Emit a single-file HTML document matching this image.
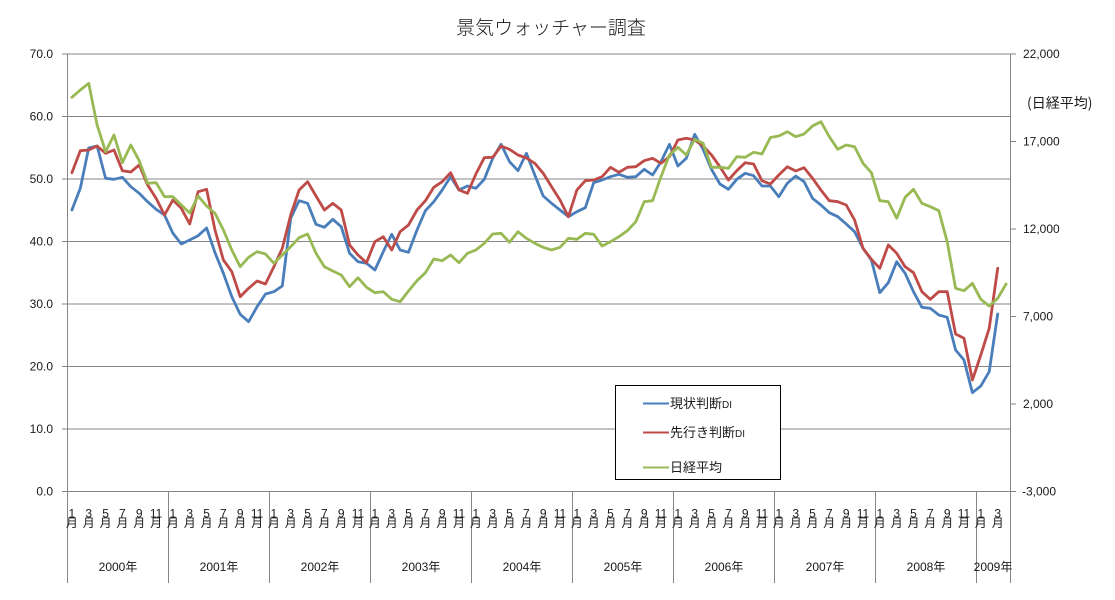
<!DOCTYPE html>
<html><head><meta charset="utf-8"><style>
html,body{margin:0;padding:0;background:#fff;}
svg{display:block;}
text{font-family:"Liberation Sans","Noto Sans CJK JP",sans-serif;fill:#1a1a1a;}
.cjk{font-family:"Noto Sans CJK JP","Liberation Sans",sans-serif;}
</style></head><body>
<svg width="1115" height="600" viewBox="0 0 1115 600" xmlns="http://www.w3.org/2000/svg">
<rect width="1115" height="600" fill="#fff"/>
<text class="cjk" x="551" y="34" font-size="19" font-weight="300" text-anchor="middle">景気ウォッチャー調査</text>
<g stroke="#868686" stroke-width="1" fill="none" shape-rendering="crispEdges">
<line x1="62" y1="54" x2="1016" y2="54"/>
<line x1="62" y1="116.5" x2="1010" y2="116.5"/>
<line x1="62" y1="179" x2="1010" y2="179"/>
<line x1="62" y1="241.5" x2="1010" y2="241.5"/>
<line x1="62" y1="304" x2="1010" y2="304"/>
<line x1="62" y1="366.5" x2="1010" y2="366.5"/>
<line x1="62" y1="429" x2="1010" y2="429"/>
<line x1="62" y1="491.5" x2="1016" y2="491.5"/>
<line x1="67.5" y1="54" x2="67.5" y2="583"/>
<line x1="1010.5" y1="54" x2="1010.5" y2="583"/>
<line x1="1010" y1="141.5" x2="1016" y2="141.5"/>
<line x1="1010" y1="229" x2="1016" y2="229"/>
<line x1="1010" y1="316.5" x2="1016" y2="316.5"/>
<line x1="1010" y1="404" x2="1016" y2="404"/>
<line x1="168.5" y1="491" x2="168.5" y2="583"/>
<line x1="269.5" y1="491" x2="269.5" y2="583"/>
<line x1="370.5" y1="491" x2="370.5" y2="583"/>
<line x1="471.5" y1="491" x2="471.5" y2="583"/>
<line x1="572.5" y1="491" x2="572.5" y2="583"/>
<line x1="673.5" y1="491" x2="673.5" y2="583"/>
<line x1="774.5" y1="491" x2="774.5" y2="583"/>
<line x1="875.5" y1="491" x2="875.5" y2="583"/>
<line x1="976.5" y1="491" x2="976.5" y2="583"/>
</g>
<g font-size="12" text-anchor="end">
<text x="53" y="58">70.0</text>
<text x="53" y="120.5">60.0</text>
<text x="53" y="183">50.0</text>
<text x="53" y="245.5">40.0</text>
<text x="53" y="308">30.0</text>
<text x="53" y="370.5">20.0</text>
<text x="53" y="433">10.0</text>
<text x="53" y="495.5">0.0</text>
</g>
<g font-size="12">
<text x="1023" y="58">22,000</text>
<text x="1023" y="145.5">17,000</text>
<text x="1023" y="233">12,000</text>
<text x="1023" y="320.5">7,000</text>
<text x="1023" y="408">2,000</text>
<text x="1022" y="495.5">-3,000</text>
</g>
<text class="cjk" x="1027" y="108" font-size="14">(日経平均)</text>

<polyline fill="none" stroke="#4A7EBB" stroke-width="2.8" stroke-linejoin="round" stroke-linecap="round" points="71.9,210 80.3,188.3 88.7,148 97.1,146 105.6,178.3 114.0,179.3 122.4,177.3 130.8,186.7 139.2,193.3 147.6,201.7 156.1,209.3 164.5,215 172.9,233.3 181.3,244 189.7,240 198.1,235.7 206.6,228 215.0,252.7 223.4,273.3 231.8,296.7 240.2,314.3 248.6,321.7 257.1,306.7 265.5,294 273.9,291.7 282.3,286 290.7,218.3 299.1,200.7 307.6,203.3 316.0,224.3 324.4,227.3 332.8,219.3 341.2,226.7 349.6,253.3 358.0,261.7 366.5,263.3 374.9,270 383.3,251.7 391.7,234.3 400.1,250 408.5,252.3 417.0,230 425.4,210.7 433.8,201.7 442.2,190 450.6,176.7 459.0,190 467.5,186 475.9,188.3 484.3,179.3 492.7,158.3 501.1,144.3 509.5,161.7 518.0,170.7 526.4,153.3 534.8,175 543.2,196 551.6,203.3 560.0,210 568.4,216.7 576.9,211.7 585.3,207.7 593.7,182.7 602.1,180 610.5,176.7 618.9,174.3 627.4,177.3 635.8,176.7 644.2,169.3 652.6,175 661.0,161.7 669.4,144.3 677.9,166 686.3,158.3 694.7,134.3 703.1,149.3 711.5,169.3 719.9,184 728.4,189.3 736.8,179.3 745.2,173.3 753.6,175.7 762.0,186 770.4,186 778.8,196.7 787.3,183.3 795.7,176 804.1,181.7 812.5,198.3 820.9,205 829.3,212.7 837.8,216.7 846.2,224 854.6,231.7 863.0,248.3 871.4,260 879.8,292.7 888.3,282.7 896.7,261.7 905.1,273.3 913.5,291.7 921.9,307.3 930.3,308.3 938.8,315 947.2,317.3 955.6,350 964.0,360 972.4,392.7 980.8,386 989.2,371.7 997.7,314"/>
<polyline fill="none" stroke="#BE4B48" stroke-width="2.8" stroke-linejoin="round" stroke-linecap="round" points="71.9,172.7 80.3,150.7 88.7,150 97.1,146 105.6,153.3 114.0,150 122.4,170.7 130.8,172 139.2,165 147.6,185 156.1,198.3 164.5,215 172.9,200 181.3,208.3 189.7,224 198.1,191.7 206.6,189.3 215.0,230 223.4,260 231.8,271.7 240.2,296.7 248.6,288.3 257.1,281 265.5,284 273.9,266.7 282.3,248.3 290.7,215 299.1,190 307.6,181.7 316.0,196 324.4,210 332.8,203.3 341.2,210 349.6,245 358.0,255 366.5,262.7 374.9,241.7 383.3,236.7 391.7,250 400.1,231.7 408.5,225 417.0,210 425.4,200.7 433.8,187.3 442.2,181.7 450.6,172.7 459.0,190 467.5,193.3 475.9,174 484.3,157.7 492.7,157.3 501.1,146 509.5,149.3 518.0,155 526.4,158 534.8,163.3 543.2,173.3 551.6,186.7 560.0,200 568.4,216.7 576.9,190 585.3,180.7 593.7,180 602.1,176.7 610.5,167.3 618.9,172.3 627.4,167.3 635.8,166.7 644.2,160.7 652.6,158.3 661.0,163.3 669.4,156.7 677.9,140 686.3,138.3 694.7,140 703.1,146 711.5,155 719.9,166.7 728.4,180 736.8,170.7 745.2,162.7 753.6,164 762.0,180.7 770.4,184 778.8,175 787.3,166.7 795.7,171 804.1,167.7 812.5,178.3 820.9,190 829.3,200.7 837.8,201.7 846.2,205 854.6,220 863.0,248.3 871.4,259.3 879.8,268.3 888.3,245 896.7,253.3 905.1,266.7 913.5,272.7 921.9,291.7 930.3,299.3 938.8,291.7 947.2,291.7 955.6,334 964.0,338.3 972.4,380 980.8,355 989.2,328.3 997.7,268.3"/>
<polyline fill="none" stroke="#98B954" stroke-width="2.8" stroke-linejoin="round" stroke-linecap="round" points="71.9,97.3 80.3,90 88.7,83.3 97.1,125 105.6,151.7 114.0,135 122.4,162.7 130.8,145 139.2,160.7 147.6,183.3 156.1,182.7 164.5,196.7 172.9,196.7 181.3,205 189.7,213 198.1,196 206.6,206 215.0,213.3 223.4,230 231.8,250 240.2,266.7 248.6,257.3 257.1,251.7 265.5,254 273.9,263.3 282.3,255 290.7,246.7 299.1,237.7 307.6,234 316.0,253.3 324.4,266.7 332.8,271 341.2,275 349.6,286.7 358.0,277.7 366.5,287.3 374.9,292.7 383.3,291.7 391.7,299.3 400.1,301.7 408.5,291 417.0,280.7 425.4,272.7 433.8,259 442.2,260.7 450.6,255 459.0,262.7 467.5,253.3 475.9,250 484.3,243.3 492.7,234 501.1,233.3 509.5,242.3 518.0,231.7 526.4,238.3 534.8,243.3 543.2,247.3 551.6,250 560.0,247.3 568.4,238.3 576.9,239.3 585.3,233.3 593.7,234.3 602.1,246 610.5,241.7 618.9,236.7 627.4,230.7 635.8,221.7 644.2,201.7 652.6,200.7 661.0,176.7 669.4,155 677.9,147.3 686.3,155 694.7,139.3 703.1,143.3 711.5,167.3 719.9,167.3 728.4,168.3 736.8,156.7 745.2,157.3 753.6,152.3 762.0,154 770.4,137.5 778.8,136 787.3,131.7 795.7,136.7 804.1,134 812.5,126 820.9,121.7 829.3,136.7 837.8,149.3 846.2,145 854.6,146.7 863.0,163.3 871.4,172.7 879.8,200.7 888.3,201.7 896.7,218.3 905.1,197.3 913.5,189.3 921.9,203.3 930.3,206.7 938.8,210.7 947.2,241.7 955.6,288.3 964.0,290.7 972.4,283.3 980.8,299.3 989.2,306 997.7,298.3 1006.1,284"/>

<rect x="615.5" y="385.5" width="165" height="94" fill="#fff" stroke="#000" stroke-width="1" shape-rendering="crispEdges"/>
<line x1="643" y1="403.5" x2="669" y2="403.5" stroke="#4A7EBB" stroke-width="2"/>
<line x1="643" y1="432.5" x2="669" y2="432.5" stroke="#BE4B48" stroke-width="2"/>
<line x1="643" y1="467.5" x2="669" y2="467.5" stroke="#98B954" stroke-width="2"/>
<text class="cjk" x="670" y="408" font-size="13">現状判断<tspan font-size="10" font-family="Liberation Sans">DI</tspan></text>
<text class="cjk" x="670" y="437" font-size="13">先行き判断<tspan font-size="10" font-family="Liberation Sans">DI</tspan></text>
<text class="cjk" x="670" y="472" font-size="13">日経平均</text>

<g font-size="12" text-anchor="middle">
<text x="71.9" y="517.5">1</text><text x="88.7" y="517.5">3</text><text x="105.6" y="517.5">5</text><text x="122.4" y="517.5">7</text><text x="139.2" y="517.5">9</text><text x="156.1" y="517.5">11</text>
<text x="172.9" y="517.5">1</text><text x="189.7" y="517.5">3</text><text x="206.6" y="517.5">5</text><text x="223.4" y="517.5">7</text><text x="240.2" y="517.5">9</text><text x="257.1" y="517.5">11</text>
<text x="273.9" y="517.5">1</text><text x="290.7" y="517.5">3</text><text x="307.6" y="517.5">5</text><text x="324.4" y="517.5">7</text><text x="341.2" y="517.5">9</text><text x="358.0" y="517.5">11</text>
<text x="374.9" y="517.5">1</text><text x="391.7" y="517.5">3</text><text x="408.5" y="517.5">5</text><text x="425.4" y="517.5">7</text><text x="442.2" y="517.5">9</text><text x="459.0" y="517.5">11</text>
<text x="475.9" y="517.5">1</text><text x="492.7" y="517.5">3</text><text x="509.5" y="517.5">5</text><text x="526.4" y="517.5">7</text><text x="543.2" y="517.5">9</text><text x="560.0" y="517.5">11</text>
<text x="576.9" y="517.5">1</text><text x="593.7" y="517.5">3</text><text x="610.5" y="517.5">5</text><text x="627.4" y="517.5">7</text><text x="644.2" y="517.5">9</text><text x="661.0" y="517.5">11</text>
<text x="677.9" y="517.5">1</text><text x="694.7" y="517.5">3</text><text x="711.5" y="517.5">5</text><text x="728.4" y="517.5">7</text><text x="745.2" y="517.5">9</text><text x="762.0" y="517.5">11</text>
<text x="778.8" y="517.5">1</text><text x="795.7" y="517.5">3</text><text x="812.5" y="517.5">5</text><text x="829.3" y="517.5">7</text><text x="846.2" y="517.5">9</text><text x="863.0" y="517.5">11</text>
<text x="879.8" y="517.5">1</text><text x="896.7" y="517.5">3</text><text x="913.5" y="517.5">5</text><text x="930.3" y="517.5">7</text><text x="947.2" y="517.5">9</text><text x="964.0" y="517.5">11</text>
<text x="980.8" y="517.5">1</text><text x="997.7" y="517.5">3</text>
</g>
<g class="cjk" font-size="12" text-anchor="middle">
<text x="71.9" y="527">月</text><text x="88.7" y="527">月</text><text x="105.6" y="527">月</text><text x="122.4" y="527">月</text><text x="139.2" y="527">月</text><text x="156.1" y="527">月</text>
<text x="172.9" y="527">月</text><text x="189.7" y="527">月</text><text x="206.6" y="527">月</text><text x="223.4" y="527">月</text><text x="240.2" y="527">月</text><text x="257.1" y="527">月</text>
<text x="273.9" y="527">月</text><text x="290.7" y="527">月</text><text x="307.6" y="527">月</text><text x="324.4" y="527">月</text><text x="341.2" y="527">月</text><text x="358.0" y="527">月</text>
<text x="374.9" y="527">月</text><text x="391.7" y="527">月</text><text x="408.5" y="527">月</text><text x="425.4" y="527">月</text><text x="442.2" y="527">月</text><text x="459.0" y="527">月</text>
<text x="475.9" y="527">月</text><text x="492.7" y="527">月</text><text x="509.5" y="527">月</text><text x="526.4" y="527">月</text><text x="543.2" y="527">月</text><text x="560.0" y="527">月</text>
<text x="576.9" y="527">月</text><text x="593.7" y="527">月</text><text x="610.5" y="527">月</text><text x="627.4" y="527">月</text><text x="644.2" y="527">月</text><text x="661.0" y="527">月</text>
<text x="677.9" y="527">月</text><text x="694.7" y="527">月</text><text x="711.5" y="527">月</text><text x="728.4" y="527">月</text><text x="745.2" y="527">月</text><text x="762.0" y="527">月</text>
<text x="778.8" y="527">月</text><text x="795.7" y="527">月</text><text x="812.5" y="527">月</text><text x="829.3" y="527">月</text><text x="846.2" y="527">月</text><text x="863.0" y="527">月</text>
<text x="879.8" y="527">月</text><text x="896.7" y="527">月</text><text x="913.5" y="527">月</text><text x="930.3" y="527">月</text><text x="947.2" y="527">月</text><text x="964.0" y="527">月</text>
<text x="980.8" y="527">月</text><text x="997.7" y="527">月</text>
</g>
<g font-size="12" text-anchor="middle">
<text x="118" y="571">2000年</text>
<text x="219" y="571">2001年</text>
<text x="320" y="571">2002年</text>
<text x="421" y="571">2003年</text>
<text x="522" y="571">2004年</text>
<text x="623" y="571">2005年</text>
<text x="724" y="571">2006年</text>
<text x="825" y="571">2007年</text>
<text x="926" y="571">2008年</text>
<text x="993" y="571">2009年</text>
</g>
</svg>
</body></html>
